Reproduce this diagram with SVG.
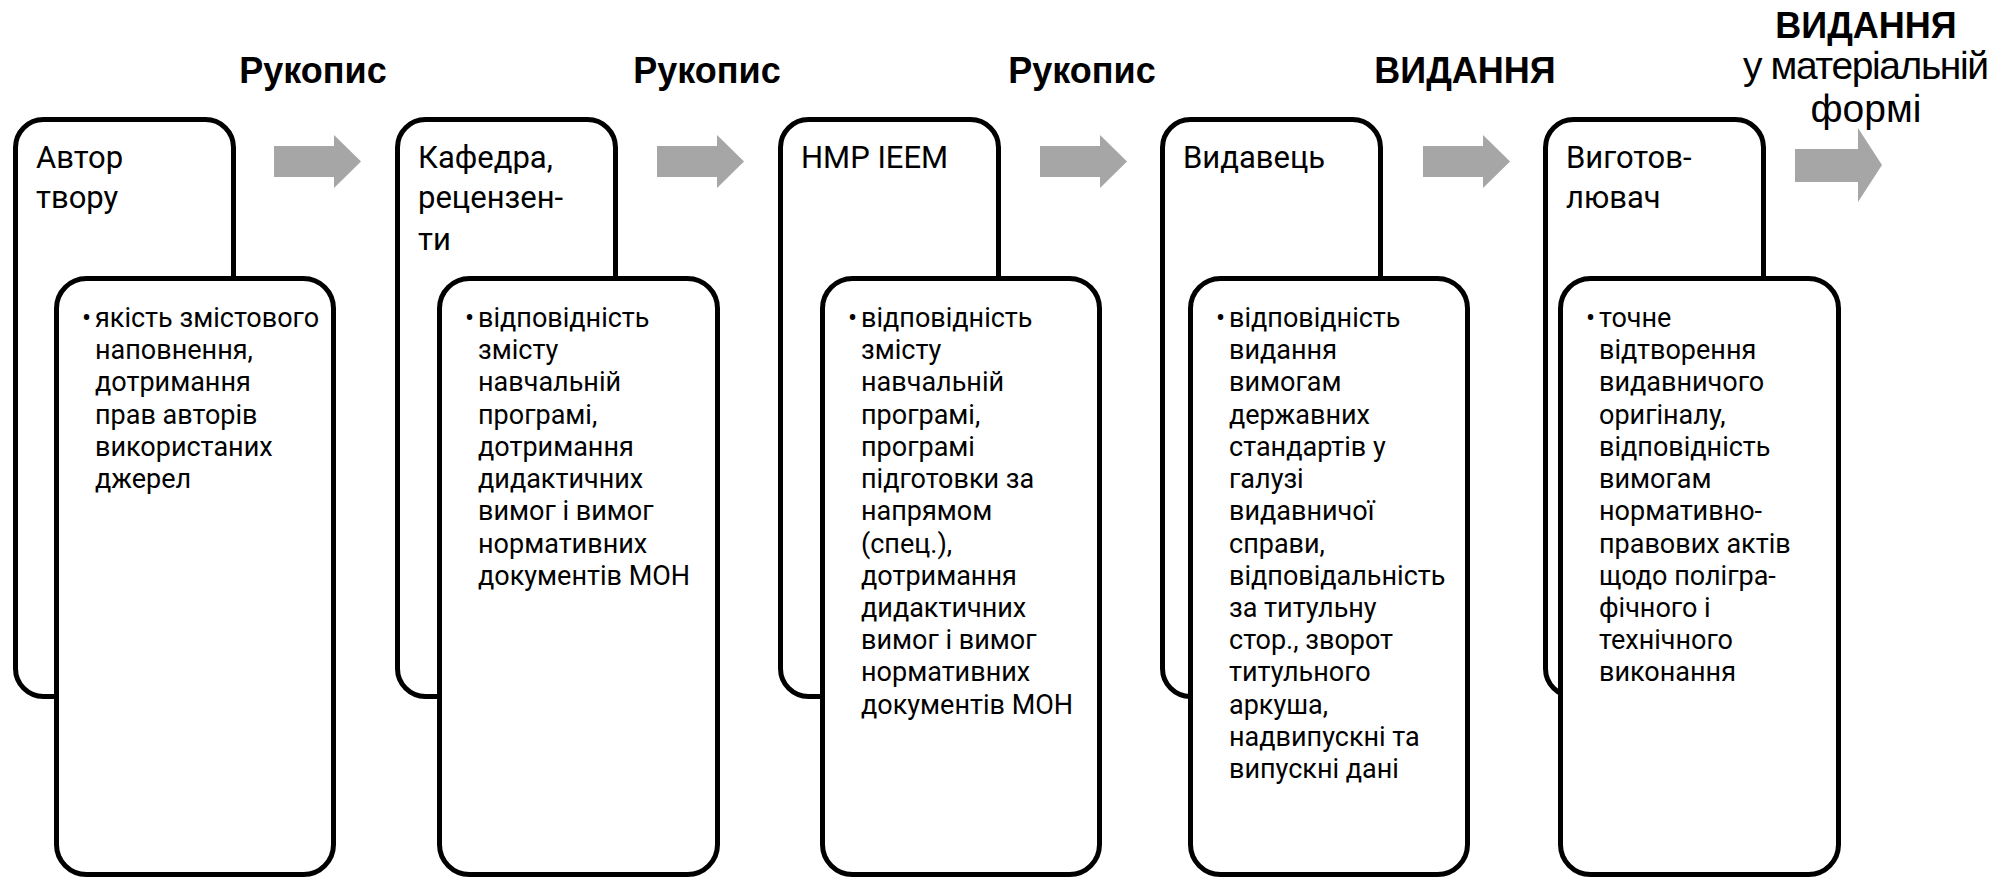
<svg xmlns="http://www.w3.org/2000/svg" width="1999" height="880" viewBox="0 0 1999 880">
<style>
.ob{fill:#fff;stroke:#000;stroke-width:5}
.ib{fill:#fff;stroke:#000;stroke-width:5}
.ttl{font-family:Roboto,"Noto Sans",sans-serif;font-size:31px;fill:#000}
.txt{font-family:Roboto,"Noto Sans",sans-serif;font-size:27px;fill:#000}
.lbl{font-family:"Liberation Sans",Arial,sans-serif;font-size:36px;font-weight:bold;fill:#000;text-anchor:middle}
.lbr{font-family:"Liberation Sans",Arial,sans-serif;font-size:39px;fill:#000}
.arr{fill:#a6a6a6}
</style>
<rect width="1999" height="880" fill="#fff"/>
<g id="labels">
<text class="lbl" x="313" y="83">Рукопис</text>
<text class="lbl" x="707" y="83">Рукопис</text>
<text class="lbl" x="1082" y="83">Рукопис</text>
<text class="lbl" x="1465" y="83">ВИДАННЯ</text>
<text class="lbl" x="1866" y="38">ВИДАННЯ</text>
<text class="lbr" x="1743" y="79" textLength="246" lengthAdjust="spacing">у матеріальній</text>
<text class="lbr" x="1866" y="122" text-anchor="middle">формі</text>
</g>
<g id="connectors">
<path class="arr" d="M274,146 H334 V135 L361,161.5 L334,188 V177 H274 Z"/>
<path class="arr" d="M657,146 H717 V135 L744,161.5 L717,188 V177 H657 Z"/>
<path class="arr" d="M1040,146 H1100 V135 L1127,161.5 L1100,188 V177 H1040 Z"/>
<path class="arr" d="M1423,146 H1483 V135 L1510,161.5 L1483,188 V177 H1423 Z"/>
<path class="arr" d="M1795,149 H1858 V128 L1882,165 L1858,202 V182 H1795 Z"/>
</g>
<g id="node1">
<rect class="ob" x="15.5" y="119.5" width="218" height="577" rx="28"/>
<text class="ttl" x="36" y="168">Автор</text>
<text class="ttl" x="36" y="208">твору</text>
<rect class="ib" x="56.5" y="278.5" width="277" height="596" rx="30"/>
<text class="txt"><tspan x="82" y="327">•</tspan><tspan x="95" y="327">якість змістового</tspan><tspan x="95" y="359">наповнення,</tspan><tspan x="95" y="391">дотримання</tspan><tspan x="95" y="424">прав авторів</tspan><tspan x="95" y="456">використаних</tspan><tspan x="95" y="488">джерел</tspan></text>
</g>
<g id="node2">
<rect class="ob" x="397.5" y="119.5" width="218" height="577" rx="28"/>
<text class="ttl" x="418" y="168">Кафедра,</text>
<text class="ttl" x="418" y="208">рецензен-</text>
<text class="ttl" x="418" y="250">ти</text>
<rect class="ib" x="439.5" y="278.5" width="278" height="596" rx="30"/>
<text class="txt"><tspan x="465" y="327">•</tspan><tspan x="478" y="327">відповідність</tspan><tspan x="478" y="359">змісту</tspan><tspan x="478" y="391">навчальній</tspan><tspan x="478" y="424">програмі,</tspan><tspan x="478" y="456">дотримання</tspan><tspan x="478" y="488">дидактичних</tspan><tspan x="478" y="520">вимог і вимог</tspan><tspan x="478" y="553">нормативних</tspan><tspan x="478" y="585">документів МОН</tspan></text>
</g>
<g id="node3">
<rect class="ob" x="780.5" y="119.5" width="218" height="577" rx="28"/>
<text class="ttl" x="801" y="168">НМР ІЕЕМ</text>
<rect class="ib" x="822.5" y="278.5" width="277" height="596" rx="30"/>
<text class="txt"><tspan x="848" y="327">•</tspan><tspan x="861" y="327">відповідність</tspan><tspan x="861" y="359">змісту</tspan><tspan x="861" y="391">навчальній</tspan><tspan x="861" y="424">програмі,</tspan><tspan x="861" y="456">програмі</tspan><tspan x="861" y="488">підготовки за</tspan><tspan x="861" y="520">напрямом</tspan><tspan x="861" y="553">(спец.),</tspan><tspan x="861" y="585">дотримання</tspan><tspan x="861" y="617">дидактичних</tspan><tspan x="861" y="649">вимог і вимог</tspan><tspan x="861" y="681">нормативних</tspan><tspan x="861" y="714">документів МОН</tspan></text>
</g>
<g id="node4">
<rect class="ob" x="1162.5" y="119.5" width="218" height="577" rx="28"/>
<text class="ttl" x="1183" y="168">Видавець</text>
<rect class="ib" x="1190.5" y="278.5" width="277" height="596" rx="30"/>
<text class="txt"><tspan x="1216" y="327">•</tspan><tspan x="1229" y="327">відповідність</tspan><tspan x="1229" y="359">видання</tspan><tspan x="1229" y="391">вимогам</tspan><tspan x="1229" y="424">державних</tspan><tspan x="1229" y="456">стандартів у</tspan><tspan x="1229" y="488">галузі</tspan><tspan x="1229" y="520">видавничої</tspan><tspan x="1229" y="553">справи,</tspan><tspan x="1229" y="585">відповідальність</tspan><tspan x="1229" y="617">за титульну</tspan><tspan x="1229" y="649">стор., зворот</tspan><tspan x="1229" y="681">титульного</tspan><tspan x="1229" y="714">аркуша,</tspan><tspan x="1229" y="746">надвипускні та</tspan><tspan x="1229" y="778">випускні дані</tspan></text>
</g>
<g id="node5">
<rect class="ob" x="1545.5" y="119.5" width="218" height="577" rx="28"/>
<text class="ttl" x="1566" y="168">Виготов-</text>
<text class="ttl" x="1566" y="208">лювач</text>
<rect class="ib" x="1560.5" y="278.5" width="278" height="596" rx="30"/>
<text class="txt"><tspan x="1586" y="327">•</tspan><tspan x="1599" y="327">точне</tspan><tspan x="1599" y="359">відтворення</tspan><tspan x="1599" y="391">видавничого</tspan><tspan x="1599" y="424">оригіналу,</tspan><tspan x="1599" y="456">відповідність</tspan><tspan x="1599" y="488">вимогам</tspan><tspan x="1599" y="520">нормативно-</tspan><tspan x="1599" y="553">правових актів</tspan><tspan x="1599" y="585">щодо полігра-</tspan><tspan x="1599" y="617">фічного  і</tspan><tspan x="1599" y="649">технічного</tspan><tspan x="1599" y="681">виконання</tspan></text>
</g>
</svg>
